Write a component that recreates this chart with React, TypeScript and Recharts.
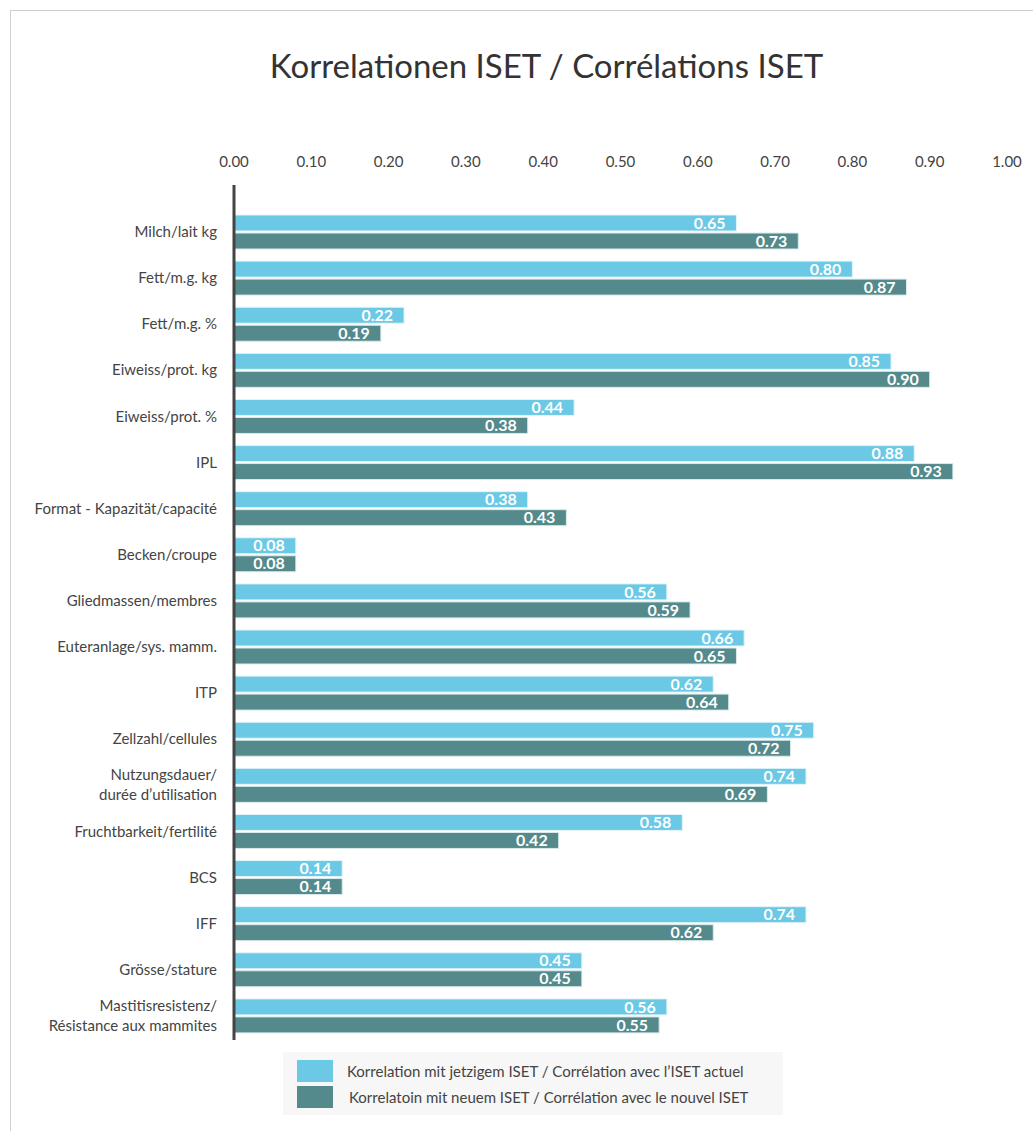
import { BarChart, Bar, XAxis, YAxis, LabelList } from "recharts";

const categories = [
  "Milch/lait kg",
  "Fett/m.g. kg",
  "Fett/m.g. %",
  "Eiweiss/prot. kg",
  "Eiweiss/prot. %",
  "IPL",
  "Format - Kapazität/capacité",
  "Becken/croupe",
  "Gliedmassen/membres",
  "Euteranlage/sys. mamm.",
  "ITP",
  "Zellzahl/cellules",
  "Nutzungsdauer/\ndurée d’utilisation",
  "Fruchtbarkeit/fertilité",
  "BCS",
  "IFF",
  "Grösse/stature",
  "Mastitisresistenz/\nRésistance aux mammites",
];

const currentIset = [0.65, 0.8, 0.22, 0.85, 0.44, 0.88, 0.38, 0.08, 0.56, 0.66, 0.62, 0.75, 0.74, 0.58, 0.14, 0.74, 0.45, 0.56];
const newIset = [0.73, 0.87, 0.19, 0.9, 0.38, 0.93, 0.43, 0.08, 0.59, 0.65, 0.64, 0.72, 0.69, 0.42, 0.14, 0.62, 0.45, 0.55];

const xTicks = [0, 0.1, 0.2, 0.3, 0.4, 0.5, 0.6, 0.7, 0.8, 0.9, 1.0];

const seriesNames = [
  "Korrelation mit jetzigem ISET / Corrélation avec l’ISET actuel",
  "Korrelatoin mit neuem ISET / Corrélation avec le nouvel ISET",
];

const LIGHT = "#6BC9E6";
const DARK = "#548A8B";
const FONT = "Lato, 'Open Sans', sans-serif";

const data = categories.map((name, i) => ({
  name,
  current: currentIset[i],
  next: newIset[i],
}));

function CategoryTick(props: any) {
  const { x, y, payload } = props;
  const lines = String(payload.value).split("\n");
  const start = -((lines.length - 1) * 20) / 2;
  return (
    <text x={x} y={y} textAnchor="end" fill="#444" fontSize={15} fontFamily={FONT}>
      {lines.map((l: string, i: number) => (
        <tspan key={i} x={x} dy={i === 0 ? start + 5 : 20}>
          {l}
        </tspan>
      ))}
    </text>
  );
}

function LegendBox() {
  const colors = [LIGHT, DARK];
  return (
    <div
      style={{
        position: "absolute",
        left: 283,
        top: 1052,
        background: "#f7f7f7",
        width: 500,
        height: 63,
        boxSizing: "border-box",
        padding: "7px 14px",
        fontFamily: FONT,
        fontSize: 15,
        color: "#444",
      }}
    >
      {seriesNames.map((n, i) => (
        <div key={n} style={{ display: "flex", alignItems: "center", height: 24, marginBottom: i === 0 ? 2 : 0 }}>
          <span style={{ width: 36, height: 22, background: colors[i], display: "inline-block" }} />
          <span style={{ marginLeft: 14 + i * 2 }}>{n}</span>
        </div>
      ))}
    </div>
  );
}

export default function App() {
  return (
    <div
      style={{
        position: "absolute",
        left: 0,
        top: 0,
        width: 1033,
        height: 1131,
        background: "#fff",
        fontFamily: FONT,
      }}
    >
      <div
        style={{
          position: "absolute",
          left: 10,
          top: 10,
          width: 1023,
          height: 1121,
          borderTop: "1px solid #cfcfcf",
          borderLeft: "1px solid #cfcfcf",
        }}
      />
      <div
        style={{
          position: "absolute",
          left: 0,
          top: 45,
          width: 1093,
          textAlign: "center",
          fontSize: 33,
          color: "#333",
        }}
      >
        Korrelationen ISET / Corrélations ISET
      </div>
      <div style={{ position: "absolute", left: 0, top: 0 }}>
        <BarChart
          width={1033}
          height={1131}
          data={data}
          layout="vertical"
          margin={{ top: 155, right: 26, left: 0, bottom: 91 }}
          barSize={16}
          barGap={2}
        >
          <XAxis
            type="number"
            orientation="top"
            domain={[0, 1]}
            ticks={xTicks}
            tickFormatter={(v: number) => v.toFixed(2)}
            axisLine={false}
            tickLine={false}
            tickMargin={12}
            height={30}
            tick={{ fill: "#444", fontSize: 15, fontFamily: FONT }}
          />
          <YAxis
            type="category"
            dataKey="name"
            width={234}
            axisLine={{ stroke: "#444", strokeWidth: 3 }}
            tickLine={false}
            tickMargin={11}
            padding={{ top: 24, bottom: 1 }}
            tick={<CategoryTick />}
            interval={0}
          />
          <Bar dataKey="current" name={seriesNames[0]} fill={LIGHT} stroke="#e3f4f8" strokeWidth={1} isAnimationActive={false}>
            <LabelList
              dataKey="current"
              position="insideRight"
              offset={11}
              formatter={(v: any) => Number(v).toFixed(2)}
              fill="#fff"
              fontSize={16}
              fontWeight="bold"
              fontFamily={FONT}
            />
          </Bar>
          <Bar dataKey="next" name={seriesNames[1]} fill={DARK} stroke="#dcebec" strokeWidth={1} isAnimationActive={false}>
            <LabelList
              dataKey="next"
              position="insideRight"
              offset={11}
              formatter={(v: any) => Number(v).toFixed(2)}
              fill="#fff"
              fontSize={16}
              fontWeight="bold"
              fontFamily={FONT}
            />
          </Bar>
        </BarChart>
      </div>
      <LegendBox />
    </div>
  );
}
